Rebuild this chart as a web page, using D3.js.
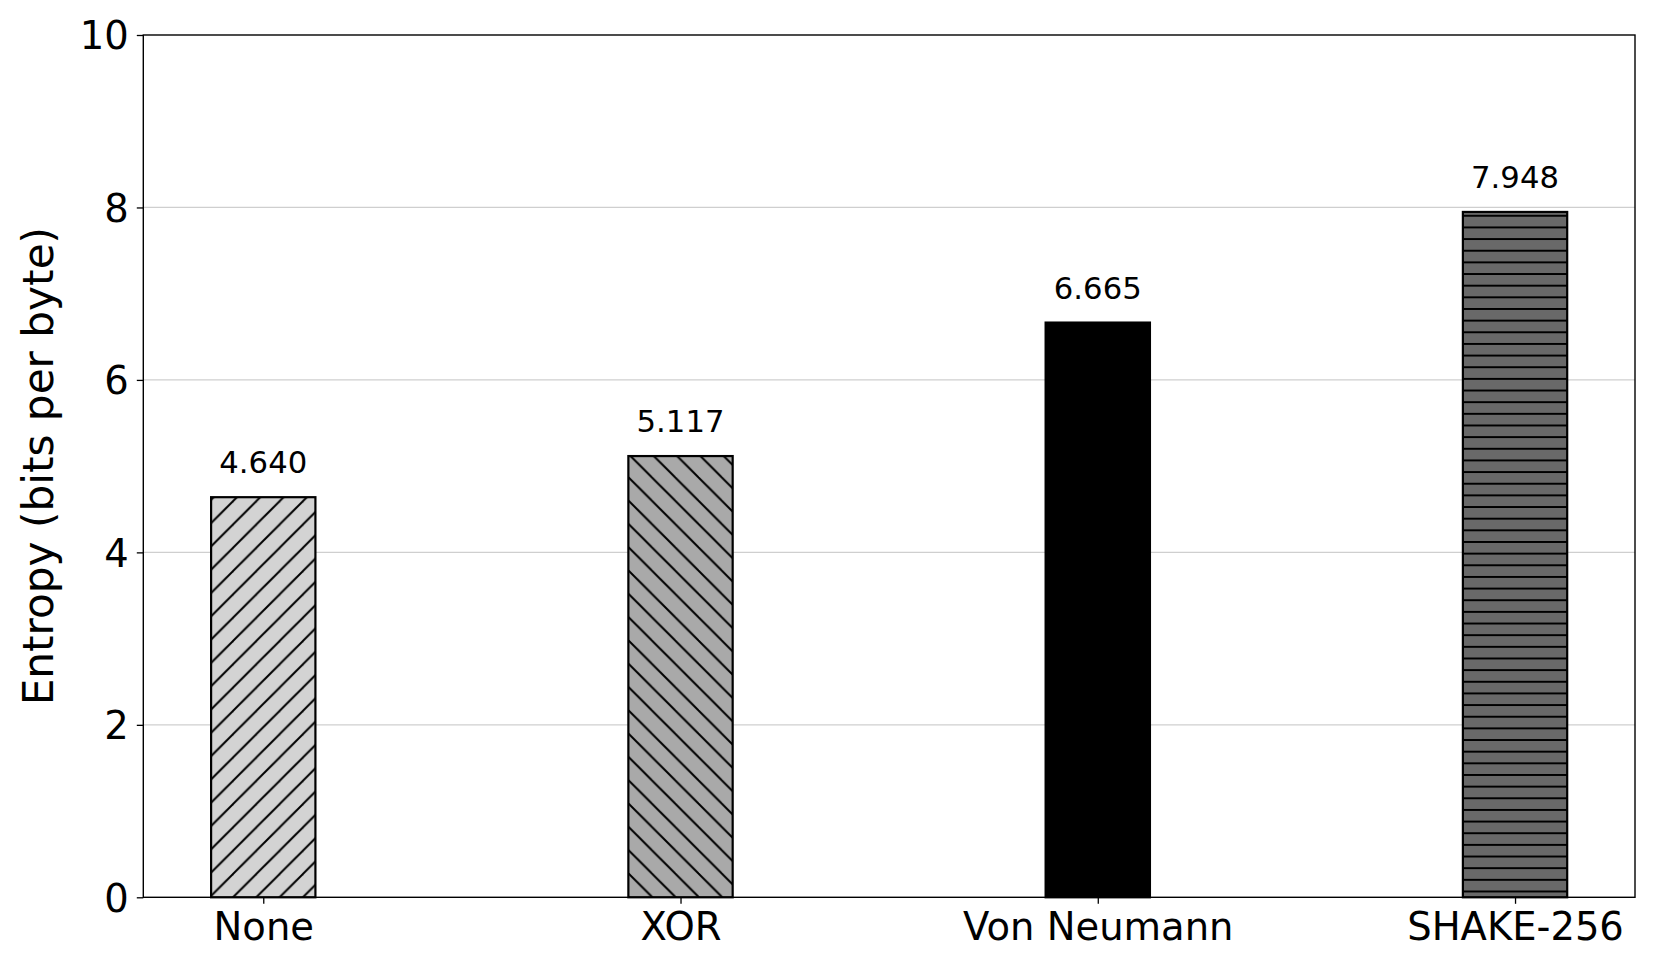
<!DOCTYPE html>
<html>
<head>
<meta charset="utf-8">
<script src="https://cdn.jsdelivr.net/npm/d3@7"></script>
<style>
  body { margin: 0; background: #fff; }
  svg { display: block; }
  text { font-family: "DejaVu Sans", sans-serif; fill: #000; }
</style>
</head>
<body>
<svg id="chart" width="1661" height="969"></svg>
<script>
const categories = ["None", "XOR", "Von Neumann", "SHAKE-256"];
const values = [4.640, 5.117, 6.665, 7.948];
const labels = ["4.640", "5.117", "6.665", "7.948"];
const fills = ["#d3d3d3", "#a9a9a9", "#000000", "#696969"];
const hatches = ["ne", "nw", "none", "h"];
const yTicks = [0, 2, 4, 6, 8, 10];
const yLabel = "Entropy (bits per byte)";

(function () {
const svg = d3.select("#chart");
const pLeft = 143.3, pRight = 1635, pTop = 35, pBottom = 897.3;

const x = d3.scaleLinear().domain([-0.2875, 3.2875]).range([pLeft, pRight]);
const y = d3.scaleLinear().domain([0, 10]).range([pBottom, pTop]);
const barW = x(0.25) - x(0);

// hatch patterns
const defs = svg.append("defs");
const tile = 23.3;
function addLine(p, x1, y1, x2, y2) {
  p.append("line").attr("x1", x1).attr("y1", y1).attr("x2", x2).attr("y2", y2)
    .attr("stroke", "#000").attr("stroke-width", 2);
}
function mkPattern(id, bg, kind) {
  const size = kind === "h" ? tile / 2 : tile;
  const p = defs.append("pattern").attr("id", id)
    .attr("patternUnits", "userSpaceOnUse")
    .attr("width", size).attr("height", size)
    .attr("y", pBottom % size);
  p.append("rect").attr("width", size).attr("height", size).attr("fill", bg);
  if (kind === "ne") {
    addLine(p, -size, size, size, -size);
    addLine(p, 0, size, size, 0);
    addLine(p, 0, size * 2, size * 2, 0);
  } else if (kind === "nw") {
    addLine(p, 0, 0, size, size);
    addLine(p, -size, 0, size, size * 2);
    addLine(p, 0, -size, size * 2, size);
  } else if (kind === "h") {
    addLine(p, 0, size / 2, size, size / 2);
  }
}
categories.forEach((c, i) => {
  if (hatches[i] !== "none") mkPattern("hatch" + i, fills[i], hatches[i]);
});

// grid
svg.append("g").selectAll("line").data(yTicks.filter(t => t > 0 && t < 10)).join("line")
  .attr("x1", pLeft).attr("x2", pRight)
  .attr("y1", d => y(d)).attr("y2", d => y(d))
  .attr("stroke", "#cfcfcf").attr("stroke-width", 1.3);

// bars
svg.append("g").selectAll("rect").data(values).join("rect")
  .attr("x", (d, i) => x(i) - barW / 2)
  .attr("y", d => y(d))
  .attr("width", barW)
  .attr("height", d => y(0) - y(d))
  .attr("fill", (d, i) => hatches[i] === "none" ? fills[i] : `url(#hatch${i})`)
  .attr("stroke", "#000").attr("stroke-width", 2.2);

// value labels
svg.append("g").selectAll("text").data(values).join("text")
  .attr("x", (d, i) => x(i))
  .attr("y", d => y(d) - 24)
  .attr("text-anchor", "middle")
  .attr("font-size", 30.7)
  .text((d, i) => labels[i]);

// axes
const yAxis = d3.axisLeft(y).tickValues(yTicks).tickFormat(d3.format("d")).tickSize(6.5).tickPadding(8);
const gy = svg.append("g").attr("transform", `translate(${pLeft},0)`).call(yAxis);
gy.select(".domain").remove();
gy.selectAll("line").attr("stroke", "#000").attr("stroke-width", 1.3);
gy.selectAll("text").attr("font-size", 38.5).attr("font-family", "DejaVu Sans").attr("dy", "0.36em");

const xAxis = d3.axisBottom(x).tickValues(d3.range(categories.length)).tickFormat(i => categories[i]).tickSize(6.5).tickPadding(8);
const gx = svg.append("g").attr("transform", `translate(0,${pBottom})`).call(xAxis);
gx.select(".domain").remove();
gx.selectAll("line").attr("stroke", "#000").attr("stroke-width", 1.3);
gx.selectAll("text").attr("font-size", 38.5).attr("font-family", "DejaVu Sans").attr("dy", "0.74em");

// frame
svg.append("rect").attr("x", pLeft).attr("y", pTop)
  .attr("width", pRight - pLeft).attr("height", pBottom - pTop)
  .attr("fill", "none").attr("stroke", "#000").attr("stroke-width", 1.4);

// y label
svg.append("text")
  .attr("transform", `translate(53,${(pTop + pBottom) / 2}) rotate(-90)`)
  .attr("text-anchor", "middle")
  .attr("font-size", 42.2)
  .text(yLabel);
})();
</script>
</body>
</html>
